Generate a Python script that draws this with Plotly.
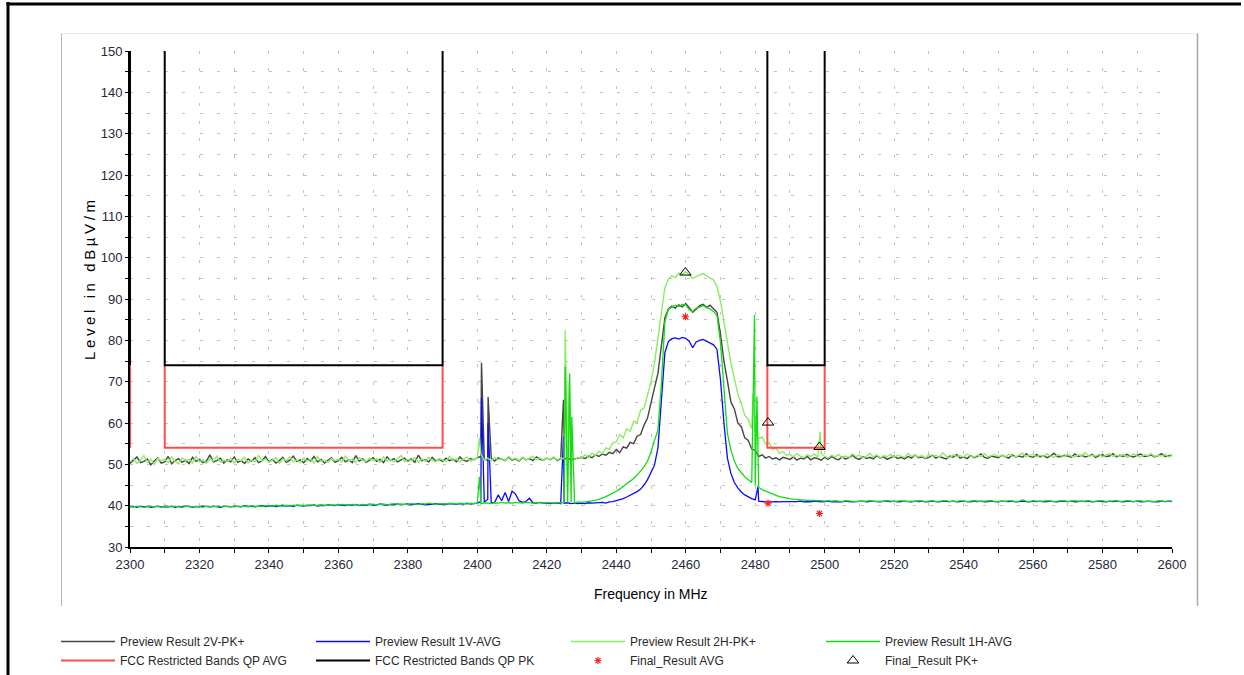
import numpy as np
import plotly.graph_objects as go

# ---------------------------------------------------------------------------
# Radiated emission scan, 2300-2600 MHz (1 MHz sweep grid)
# ---------------------------------------------------------------------------
FREQ_START_MHZ = 2300
FREQ_STOP_MHZ = 2600
LEVEL_MIN, LEVEL_MAX = 30, 150

# Preview Result 2V-PK+ (dBuV/m)
pk_2v = [
    50.2, 50.9, 51.8, 50.4, 50.7, 51.3, 49.9, 50.8, 51.6, 50.3,
    50.6, 51.9, 50.1, 50.9, 51.4, 50.5, 51.0, 50.2, 51.7, 50.7,
    51.2, 50.4, 50.8, 52.3, 50.6, 50.9, 51.5, 50.3, 51.1, 50.6,
    51.8, 50.5, 50.9, 50.2, 51.3, 50.7, 51.6, 50.4, 50.8, 51.9,
    50.6, 51.2, 50.3, 50.9, 51.7, 50.5, 51.0, 52.0, 50.7, 51.1,
    50.4, 51.4, 50.8, 51.9, 50.6, 51.2, 50.3, 51.0, 51.6, 50.5,
    50.9, 51.7, 50.6, 51.1, 50.4, 52.1, 50.8, 51.3, 50.5, 51.0,
    51.6, 50.7, 51.2, 50.4, 51.8, 50.9, 51.4, 50.6, 51.0, 51.5,
    50.8, 51.3, 50.5, 52.2, 50.9, 51.1, 50.6, 51.7, 50.8, 51.2,
    50.7, 51.5, 50.9, 51.2, 50.6, 51.8, 51.0, 50.7, 51.4, 51.1,
    51.6, 51.9, 51.2, 51.0, 51.5, 50.8, 51.6, 51.2, 50.9, 51.7,
    51.0, 51.3, 50.8, 51.6, 51.1, 51.4, 50.9, 51.8, 51.2, 51.0,
    51.5, 51.1, 51.7, 50.9, 51.4, 51.2, 51.6, 51.0, 51.3, 51.5,
    51.7, 51.4, 52.0, 51.6, 52.3, 51.9, 52.5, 52.2, 52.9, 52.6,
    53.6, 52.8, 54.2, 53.9, 55.3, 55.0, 56.8, 57.2, 59.5, 61.2,
    64.5, 68.5, 72.0, 79.5, 85.5, 87.6, 88.3, 87.8, 88.6, 88.1,
    88.9, 87.9, 86.8, 87.5, 88.4, 88.7, 88.0, 88.5, 87.6, 86.8,
    81.5, 75.0, 70.2, 65.1, 63.4, 60.0, 59.1, 56.4, 55.8, 53.7,
    53.4, 51.9, 52.3, 51.5, 51.9, 51.3, 51.6, 51.1, 51.7, 51.4,
    51.2, 51.8, 51.0, 51.5, 51.3, 51.9, 51.1, 51.6, 51.4, 51.0,
    51.7, 51.2, 51.9, 51.4, 51.1, 51.8, 51.3, 51.6, 52.2, 51.5,
    51.2, 51.9, 51.4, 51.7, 51.3, 52.1, 51.5, 51.8, 51.2, 51.6,
    52.0, 51.4, 51.7, 51.3, 51.9, 51.5, 52.3, 51.6, 51.8, 51.4,
    51.7, 52.2, 51.5, 51.9, 51.6, 51.3, 52.0, 51.7, 52.4, 51.5,
    51.8, 51.4, 52.1, 51.6, 51.9, 52.5, 51.7, 51.5, 52.0, 51.8,
    51.6, 52.2, 51.9, 51.5, 52.3, 51.8, 52.0, 51.7, 52.6, 51.9,
    51.7, 52.4, 51.8, 52.1, 51.6, 52.0, 52.7, 51.9, 51.8, 52.2,
    52.0, 51.7, 52.5, 51.9, 52.2, 51.8, 52.0, 52.4, 51.7, 52.1,
    52.3, 51.9, 52.0, 52.6, 51.8, 52.2, 51.9, 52.4, 52.0, 51.8,
    52.2, 52.5, 51.9, 52.0, 52.3, 51.8, 52.1, 52.6, 51.9, 52.0,
    52.2,
]

# Preview Result 1V-AVG
avg_1v = [
    39.7, 39.8, 39.6, 39.9, 39.7, 39.8, 39.6, 39.8, 39.9, 39.7,
    39.8, 39.7, 39.9, 39.6, 39.8, 39.7, 39.9, 39.8, 39.6, 39.8,
    39.7, 39.9, 39.8, 39.7, 39.9, 39.8, 39.6, 39.9, 39.8, 39.7,
    39.9, 39.8, 39.7, 40.0, 39.8, 39.9, 39.7, 39.9, 40.0, 39.8,
    39.9, 40.0, 39.8, 39.9, 40.1, 39.9, 40.0, 39.8, 40.1, 40.0,
    39.9, 40.1, 40.0, 40.2, 39.9, 40.1, 40.0, 40.2, 40.1, 40.0,
    40.2, 40.1, 40.0, 40.2, 40.1, 40.3, 40.0, 40.2, 40.1, 40.3,
    40.1, 40.2, 40.4, 40.2, 40.1, 40.3, 40.2, 40.4, 40.2, 40.3,
    40.4, 40.2, 40.3, 40.5, 40.3, 40.2, 40.4, 40.3, 40.5, 40.3,
    40.4, 40.3, 40.5, 40.4, 40.3, 40.5, 40.4, 40.6, 40.4, 40.5,
    40.6, 41.0, 40.9, 41.5, 40.7, 40.8, 42.6, 41.2, 43.2, 41.0,
    43.5, 42.8, 41.2, 40.8, 41.0, 41.8, 40.7, 40.6, 40.8, 40.6,
    40.7, 40.5, 40.6, 40.7, 40.5, 40.6, 40.7, 40.5, 40.6, 40.5,
    40.6, 40.5, 40.7, 40.6, 40.7, 40.8, 40.8, 40.6, 40.9, 41.0,
    41.2, 41.4, 41.7, 42.1, 42.5, 42.9, 43.4, 44.0, 45.0, 46.3,
    48.2, 49.8, 54.0, 65.0, 77.0, 79.7, 80.4, 80.6, 80.3, 80.7,
    80.5, 79.8, 78.2, 79.6, 80.0, 80.2, 79.7, 79.4, 78.9, 77.8,
    70.5, 60.0, 51.5, 47.8, 45.6, 44.3, 43.3, 42.6, 42.1, 41.7,
    41.4, 41.1, 41.0, 40.9, 41.0, 40.9, 41.0, 40.9, 41.0, 41.0,
    41.0, 40.9, 41.0, 41.1, 40.9, 41.0, 40.9, 41.1, 41.0, 40.9,
    41.0, 41.1, 40.9, 41.0, 41.0, 40.9, 41.1, 41.0, 40.9, 41.0,
    41.0, 41.1, 40.9, 41.0, 41.1, 41.0, 40.9, 41.1, 41.0, 41.0,
    41.1, 40.9, 41.0, 41.1, 41.0, 40.9, 41.1, 41.0, 41.1, 40.9,
    41.0, 41.1, 41.0, 40.9, 41.1, 41.0, 41.0, 41.1, 40.9, 41.0,
    41.1, 41.0, 40.9, 41.1, 41.0, 41.1, 40.9, 41.0, 41.1, 41.0,
    40.9, 41.1, 41.0, 41.0, 41.1, 40.9, 41.0, 41.1, 41.0, 40.9,
    41.1, 41.0, 41.1, 40.9, 41.0, 41.1, 41.0, 40.9, 41.1, 41.0,
    41.0, 41.1, 40.9, 41.0, 41.1, 41.0, 41.1, 40.9, 41.0, 41.1,
    41.0, 40.9, 41.1, 41.0, 41.1, 41.0, 40.9, 41.1, 41.0, 41.0,
    41.1, 40.9, 41.0, 41.1, 41.0, 41.0, 40.9, 41.1, 41.0, 41.1,
    41.0,
]

# Preview Result 2H-PK+
pk_2h = [
    50.6, 51.4, 50.2, 51.0, 52.1, 50.5, 51.2, 50.0, 51.5, 50.8,
    51.3, 50.4, 51.8, 50.7, 50.1, 51.6, 50.9, 51.2, 50.3, 51.9,
    50.6, 51.1, 50.2, 51.4, 50.8, 52.0, 50.5, 51.0, 50.7, 51.5,
    50.3, 51.2, 50.9, 51.7, 50.4, 51.0, 50.6, 52.2, 50.8, 51.3,
    50.5, 51.0, 51.6, 50.2, 51.3, 50.9, 51.8, 50.6, 51.1, 50.4,
    51.5, 50.8, 51.2, 50.3, 51.9, 50.7, 51.0, 50.5, 51.4, 50.9,
    51.2, 50.6, 52.0, 50.8, 51.3, 50.4, 51.6, 51.0, 50.7, 51.5,
    50.9, 51.3, 50.5, 51.8, 50.8, 51.1, 50.6, 51.4, 52.1, 50.7,
    51.2, 50.9, 51.6, 50.4, 51.3, 50.8, 51.7, 51.0, 50.6, 51.4,
    51.1, 50.7, 51.9, 50.9, 51.4, 50.6, 51.2, 51.8, 50.8, 51.3,
    51.6, 52.4, 51.0, 51.5, 50.9, 51.7, 51.1, 51.4, 50.8, 51.9,
    51.2, 51.5, 50.9, 51.7, 51.0, 51.4, 52.0, 51.1, 51.6, 50.9,
    51.5, 51.2, 51.8, 51.0, 51.6, 51.3, 51.9, 51.4, 51.1, 51.7,
    51.5, 52.3, 51.6, 52.7, 52.1, 53.2, 52.6, 54.0, 53.6, 55.2,
    55.4, 57.2, 56.4, 58.6, 58.0, 60.4, 60.2, 63.1, 63.6, 66.8,
    70.0, 74.5, 80.5, 87.0, 92.8, 94.8, 95.6, 95.2, 96.3, 95.9,
    96.6, 95.8, 95.0, 95.4, 95.9, 96.2, 95.6, 95.1, 94.6, 93.0,
    89.5, 84.5, 79.5, 74.5, 70.8, 67.0, 64.8, 61.9, 60.9, 58.6,
    58.0, 56.2, 56.6, 54.9, 55.3, 53.6, 54.0, 52.6, 53.1, 52.2,
    52.4, 51.8, 52.6, 52.0, 51.6, 52.3, 51.9, 52.5, 51.7, 52.6,
    51.9, 51.5, 52.2, 51.8, 52.4, 51.6, 52.0, 51.7, 52.5, 51.9,
    52.2, 51.6, 52.0, 52.7, 51.8, 52.3, 51.5, 52.1, 51.9, 52.4,
    51.7, 52.2, 52.0, 51.6, 52.6, 51.9, 52.3, 51.8, 52.1, 51.5,
    52.4, 51.9, 52.2, 51.7, 52.8, 52.0, 51.6, 52.3, 51.9, 52.1,
    51.8, 52.5, 52.0, 51.7, 52.2, 51.9, 52.6, 51.8, 52.1, 52.4,
    51.9, 52.2, 51.7, 52.5, 52.0, 51.8, 52.3, 52.7, 51.9, 52.1,
    52.4, 51.8, 52.2, 51.9, 52.6, 52.0, 51.7, 52.3, 52.1, 51.9,
    52.5, 52.0, 51.8, 52.3, 52.1, 52.8, 51.9, 52.2, 52.0, 52.4,
    51.8, 52.3, 52.6, 51.9, 52.2, 52.0, 52.4, 51.7, 52.1, 52.5,
    52.0, 51.8, 52.3, 52.1, 52.6, 51.9, 52.2, 52.0, 52.4, 51.8,
    52.1,
]

# Preview Result 1H-AVG
avg_1h = [
    39.8, 39.7, 39.9, 39.8, 39.6, 39.8, 39.9, 39.7, 39.8, 39.6,
    39.9, 39.8, 39.7, 39.9, 39.8, 39.6, 39.8, 39.9, 39.7, 39.8,
    39.8, 39.6, 39.9, 39.8, 39.7, 39.9, 39.8, 39.7, 39.9, 39.8,
    39.7, 39.9, 39.8, 39.9, 39.7, 40.0, 39.8, 39.9, 39.8, 40.0,
    40.0, 39.9, 40.1, 40.0, 39.9, 40.1, 39.9, 40.1, 40.0, 40.1,
    40.1, 40.0, 40.2, 40.0, 40.1, 40.2, 40.1, 40.0, 40.2, 40.1,
    40.1, 40.3, 40.2, 40.1, 40.3, 40.2, 40.1, 40.3, 40.2, 40.4,
    40.3, 40.2, 40.3, 40.4, 40.2, 40.3, 40.5, 40.3, 40.4, 40.3,
    40.3, 40.5, 40.4, 40.3, 40.5, 40.4, 40.6, 40.4, 40.3, 40.5,
    40.5, 40.4, 40.6, 40.5, 40.4, 40.6, 40.5, 40.4, 40.6, 40.5,
    40.6, 40.5, 40.7, 40.6, 40.5, 40.7, 40.6, 40.8, 40.6, 40.7,
    40.6, 40.8, 40.7, 40.6, 40.8, 40.7, 40.6, 40.8, 40.7, 40.6,
    40.8, 40.7, 40.6, 40.8, 40.7, 40.8, 40.7, 40.8, 40.6, 40.9,
    40.8, 40.9, 41.0, 41.1, 41.3, 41.5, 41.8, 42.2, 42.6, 43.0,
    43.5, 44.0, 44.6, 45.2, 45.9, 46.6, 47.4, 48.3, 49.4, 50.8,
    53.0, 55.8, 58.3, 69.6, 84.5, 87.5, 88.0, 88.5, 88.2, 88.7,
    88.6, 87.4, 87.0, 87.8, 88.0, 88.4, 87.9, 87.6, 87.0, 86.0,
    79.5, 67.5, 57.5, 53.5, 50.8, 49.0, 47.9, 47.0, 46.3, 45.6,
    44.9, 44.4, 43.9, 43.5, 43.1, 42.8, 42.5, 42.2, 42.0, 41.8,
    41.7, 41.6, 41.5, 41.4, 41.4, 41.3, 41.3, 41.2, 41.2, 41.2,
    41.1, 41.2, 41.1, 41.2, 41.1, 41.0, 41.2, 41.1, 41.1, 41.0,
    41.1, 41.0, 41.1, 41.2, 41.0, 41.1, 41.1, 41.0, 41.2, 41.1,
    41.0, 41.1, 41.2, 41.0, 41.1, 41.1, 41.0, 41.2, 41.1, 41.0,
    41.1, 41.2, 41.0, 41.1, 41.1, 41.2, 41.0, 41.1, 41.0, 41.2,
    41.1, 41.0, 41.1, 41.2, 41.1, 41.0, 41.1, 41.1, 41.2, 41.0,
    41.1, 41.1, 41.0, 41.2, 41.1, 41.0, 41.1, 41.4, 41.1, 41.0,
    41.2, 41.1, 41.0, 41.1, 41.2, 41.1, 41.0, 41.1, 41.1, 41.2,
    41.0, 41.1, 41.2, 41.1, 41.0, 41.1, 41.2, 41.0, 41.1, 41.1,
    41.2, 41.0, 41.1, 41.1, 41.2, 41.0, 41.1, 41.2, 41.1, 41.0,
    41.1, 41.2, 41.0, 41.1, 41.1, 41.0, 41.2, 41.1, 41.0, 41.1,
    41.1,
]

# Narrow spurs caught between sweep points (frequency MHz, level dBuV/m)
spur_freq_2v = [2401.2, 2403.1, 2424.8]
spur_level_2v = [74.6, 66.3, 65.6]
spur_freq_1v = [2401.2, 2403.1, 2424.8, 2480.8]
spur_level_1v = [66.0, 60.0, 56.7, 44.6]
spur_freq_2h = [2400.6, 2425.3, 2426.4, 2479.4, 2498.7]
spur_level_2h = [56.5, 82.5, 70.0, 67.0, 57.9]
spur_freq_1h = [2400.6, 2425.3, 2426.6, 2427.2, 2479.8, 2480.5]
spur_level_1h = [47.0, 73.6, 72.0, 61.5, 86.1, 66.4]

# FCC restricted-band limit lines (None breaks the line between bands)
limit_freq = [2300, 2300, None, 2310, 2310, 2390, 2390, None, 2483.5, 2483.5, 2500, 2500]
limit_qp_pk = [150, 74, None, 150, 74, 74, 150, None, 150, 74, 74, 150]
limit_qp_avg = [74, 54, None, 74, 54, 54, 74, None, 74, 54, 54, 74]

# Final measurements
final_freq = [2459.9, 2483.7, 2498.5]
final_avg = [85.7, 40.6, 38.1]
final_pk = [96.4, 60.1, 54.2]


def sweep_with_spurs(levels, spur_freqs, spur_levels):
    """Merge the 1 MHz sweep with the separately listed spur points."""
    n_expected = FREQ_STOP_MHZ - FREQ_START_MHZ + 1
    assert len(levels) == n_expected, (len(levels), n_expected)
    grid = list(range(FREQ_START_MHZ, FREQ_STOP_MHZ + 1))
    pts = sorted(list(zip(grid, levels)) + list(zip(spur_freqs, spur_levels)))
    return [p[0] for p in pts], [p[1] for p in pts]


FONT = "Liberation Sans, Arial, sans-serif"
TICK_COLOR = "#28283c"
GRID_COLOR = "#c2c2c2"
GRID_DASH = "3px,14.4px"

# plot-area geometry in pixels (used for the decorations around it)
FIG_W, FIG_H = 1244, 675
PLOT_L, PLOT_T, PLOT_W, PLOT_H = 130, 51, 1042, 496


def px_x(px):
    return (px - PLOT_L) / PLOT_W


def px_y(py):
    return (PLOT_T + PLOT_H - py) / PLOT_H


fig = go.Figure()

series = [
    ("Preview Result 2V-PK+", pk_2v, spur_freq_2v, spur_level_2v, "#454545", 1.4),
    ("Preview Result 1V-AVG", avg_1v, spur_freq_1v, spur_level_1v, "#0a0aff", 1.3),
    ("Preview Result 2H-PK+", pk_2h, spur_freq_2h, spur_level_2h, "#8aee62", 1.4),
    ("Preview Result 1H-AVG", avg_1h, spur_freq_1h, spur_level_1h, "#12dc12", 1.3),
]
for rank, (name, lv, sf, sl, color, width) in enumerate(series):
    fx, fy = sweep_with_spurs(lv, sf, sl)
    fig.add_trace(go.Scatter(
        x=fx, y=fy, mode="lines", name=name, legendrank=rank + 1,
        line=dict(color=color, width=width),
    ))

fig.add_trace(go.Scatter(
    x=limit_freq, y=limit_qp_avg, mode="lines", name="FCC Restricted Bands QP AVG",
    legendrank=5, line=dict(color="#ff4d4d", width=2), connectgaps=False,
))
fig.add_trace(go.Scatter(
    x=limit_freq, y=limit_qp_pk, mode="lines", name="FCC Restricted Bands QP PK",
    legendrank=6, line=dict(color="#000000", width=2), connectgaps=False,
))
fig.add_trace(go.Scatter(
    x=final_freq, y=final_avg, mode="markers", name="Final_Result AVG", legendrank=7,
    marker=dict(symbol="asterisk-open", size=6, color="#ff2020",
                line=dict(color="#ff2020", width=1.2)),
))
fig.add_trace(go.Scatter(
    x=final_freq, y=final_pk, mode="markers", name="Final_Result PK+", legendrank=8,
    marker=dict(symbol="triangle-up-open", size=10, color="#000000",
                line=dict(color="#000000", width=1)),
))

axis_common = dict(
    showline=True, linecolor="#000000", linewidth=2, mirror=False,
    ticks="outside", tickcolor="#000000", tickwidth=1, zeroline=False,
    showgrid=True, gridcolor=GRID_COLOR, gridwidth=1, griddash=GRID_DASH,
    tickfont=dict(family=FONT, size=13, color=TICK_COLOR),
    layer="below traces",
)
fig.update_xaxes(
    range=[FREQ_START_MHZ, FREQ_STOP_MHZ], dtick=20, tick0=2300, ticklen=4,
    minor=dict(dtick=10, ticks="outside", ticklen=4, tickcolor="#000000",
               showgrid=True, gridcolor=GRID_COLOR, griddash=GRID_DASH),
    **axis_common,
)
fig.update_yaxes(
    range=[LEVEL_MIN, LEVEL_MAX], dtick=10, tick0=30, ticklen=3,
    minor=dict(dtick=5, ticks="outside", ticklen=3, tickcolor="#000000",
               showgrid=True, gridcolor=GRID_COLOR, griddash=GRID_DASH),
    **axis_common,
)

shapes = [
    # page frame
    dict(type="line", x0=px_x(8), x1=px_x(8), y0=px_y(2), y1=px_y(700),
         line=dict(color="#000000", width=3)),
    dict(type="line", x0=px_x(6.5), x1=px_x(1241), y0=px_y(4), y1=px_y(4),
         line=dict(color="#000000", width=3)),
    # chart panel
    dict(type="line", x0=px_x(61.5), x1=px_x(61.5), y0=px_y(33.5), y1=px_y(606),
         line=dict(color="#b8b8b8", width=1)),
    dict(type="line", x0=px_x(61.5), x1=px_x(1197.5), y0=px_y(33.5), y1=px_y(33.5),
         line=dict(color="#e8e8e8", width=1)),
    dict(type="line", x0=px_x(1197.5), x1=px_x(1197.5), y0=px_y(33.5), y1=px_y(606),
         line=dict(color="#a8a8a8", width=1.5)),
]
for s in shapes:
    s.update(xref="paper", yref="paper", layer="below")

annotations = [
    dict(text='<span style="letter-spacing:3.6px">Level in dBµV/m</span>',
         x=px_x(89), y=px_y(278), textangle=-90,
         font=dict(family=FONT, size=15, color="#000000")),
    dict(text="Frequency in MHz", x=px_x(651), y=px_y(594),
         font=dict(family=FONT, size=14, color="#000000")),
]
for a in annotations:
    a.update(xref="paper", yref="paper", showarrow=False,
             xanchor="center", yanchor="middle")

fig.update_layout(
    width=FIG_W, height=FIG_H,
    margin=dict(l=PLOT_L, r=FIG_W - PLOT_L - PLOT_W, t=PLOT_T, b=FIG_H - PLOT_T - PLOT_H),
    paper_bgcolor="#ffffff", plot_bgcolor="#ffffff",
    shapes=shapes, annotations=annotations,
    showlegend=True,
    legend=dict(
        orientation="h", xref="container", yref="container",
        x=56 / FIG_W, y=1 - 627 / FIG_H, xanchor="left", yanchor="top",
        entrywidth=186, entrywidthmode="pixels", itemwidth=54,
        font=dict(family=FONT, size=12, color="#2a2a2a"),
        bgcolor="rgba(0,0,0,0)", borderwidth=0, tracegroupgap=0,
        itemclick=False, itemdoubleclick=False,
    ),
    hovermode=False,
)

fig.write_html("out.html")
